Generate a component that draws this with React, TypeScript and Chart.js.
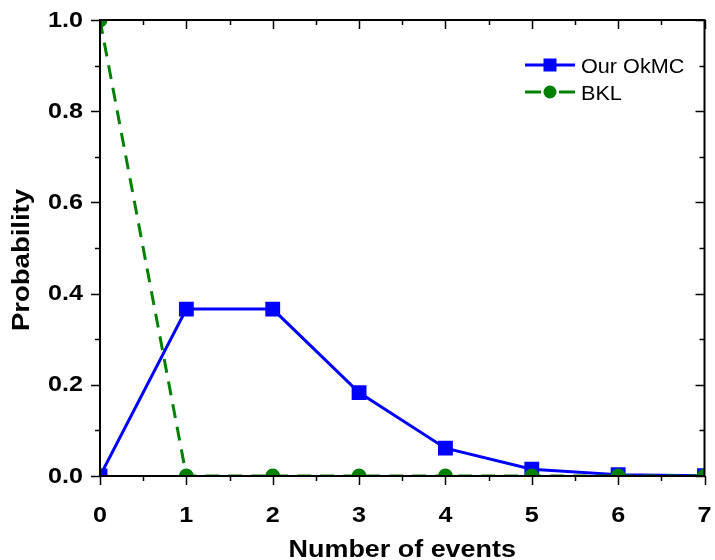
import React, { useEffect, useRef } from "react";
import { Chart, registerables } from "chart.js";

Chart.register(...registerables);

const eventCounts = [0, 1, 2, 3, 4, 5, 6, 7];
const okmcProb = [0, 0.366, 0.366, 0.183, 0.061, 0.015, 0.003, 0.0005];
const bklProb = [1, 0, 0, 0, 0, 0, 0, 0];
const seriesNames = ["Our OkMC", "BKL"];
const xTitle = "Number of events";
const yTitle = "Probability";

const FONT = "'Liberation Sans', Arial, Helvetica, sans-serif";
const BLUE = "#0000ff";
const GREEN = "#008000";
const SX = 1.17;

function stretchText(ctx: any, text: string, x: number, y: number, font: string, align: string, sx: number, rot = 0) {
  ctx.save();
  ctx.font = font;
  ctx.textAlign = align;
  ctx.textBaseline = "alphabetic";
  ctx.fillStyle = "#000";
  ctx.translate(x, y);
  if (rot) ctx.rotate(rot);
  ctx.scale(sx, 1);
  ctx.fillText(text, 0, 0);
  ctx.restore();
}

const framePlugin = {
  id: "frame",
  afterDatasetsDraw(chart: any) {
    const { ctx, chartArea } = chart;
    const { left, right, top, bottom } = chartArea;
    const xs = chart.scales.x;
    const ys = chart.scales.y;
    ctx.save();
    ctx.strokeStyle = "#000";
    ctx.lineWidth = 2;
    ctx.beginPath();
    ctx.rect(left, top, right - left, bottom - top);
    ctx.stroke();
    ctx.lineWidth = 1.5;
    ctx.beginPath();
    for (let i = 0; i <= 10; i++) {
      const v = i / 10;
      const y = Math.round(ys.getPixelForValue(v)) + 0.5;
      const major = i % 2 === 0;
      const len = major ? 9 : 5;
      ctx.moveTo(left, y);
      ctx.lineTo(left - len, y);
      ctx.moveTo(right, y);
      ctx.lineTo(right - len, y);
    }
    for (let i = 0; i <= 14; i++) {
      const v = i / 2;
      const x = Math.round(xs.getPixelForValue(v)) + 0.5;
      const major = i % 2 === 0;
      const len = major ? 9 : 5;
      ctx.moveTo(x, bottom);
      ctx.lineTo(x, bottom + len);
      ctx.moveTo(x, top);
      ctx.lineTo(x, top + len);
    }
    ctx.stroke();
    ctx.restore();

    // tick labels from the scales
    const tickFont = `bold 21.5px ${FONT}`;
    for (const t of ys.ticks) {
      const y = ys.getPixelForValue(t.value);
      stretchText(ctx, Number(t.value).toFixed(1), 83, y + 6.5, tickFont, "right", SX);
    }
    for (const t of xs.ticks) {
      const x = xs.getPixelForValue(t.value);
      stretchText(ctx, String(t.value), x, 522, tickFont, "center", SX);
    }
    // axis titles
    stretchText(ctx, xTitle, (left + right) / 2, 557, `bold 23px ${FONT}`, "center", SX);
    stretchText(ctx, yTitle, 29, 260, `bold 23.5px ${FONT}`, "center", SX, -Math.PI / 2);

    // legend
    ctx.save();
    const items = [
      { name: seriesNames[0], color: BLUE, dash: [] as number[], style: "rect", y: 65 },
      { name: seriesNames[1], color: GREEN, dash: [16, 18], style: "circle", y: 92 },
    ];
    for (const it of items) {
      ctx.strokeStyle = it.color;
      ctx.fillStyle = it.color;
      ctx.lineWidth = 3;
      ctx.setLineDash(it.dash);
      ctx.beginPath();
      ctx.moveTo(525, it.y);
      ctx.lineTo(575, it.y);
      ctx.stroke();
      ctx.setLineDash([]);
      ctx.beginPath();
      if (it.style === "rect") {
        ctx.rect(550 - 6.5, it.y - 6.5, 13, 13);
      } else {
        ctx.arc(550, it.y, 6.5, 0, Math.PI * 2);
      }
      ctx.fill();
    }
    ctx.restore();
    stretchText(ctx, items[0].name, 581, items[0].y + 8, `21px ${FONT}`, "left", 1.03);
    stretchText(ctx, items[1].name, 581, items[1].y + 8, `21px ${FONT}`, "left", 1.03);
  },
};

export default function App() {
  const ref = useRef<HTMLCanvasElement>(null);
  useEffect(() => {
    document.body.style.margin = "0";
    const canvas = ref.current!;
    const chart = new Chart(canvas, {
      type: "line",
      data: {
        datasets: [
          {
            label: seriesNames[1],
            data: eventCounts.map((x, i) => ({ x, y: bklProb[i] })),
            borderColor: GREEN,
            backgroundColor: GREEN,
            borderWidth: 3,
            borderDash: [14, 9],
            pointStyle: "circle",
            pointRadius: 7.5,
            pointBorderWidth: 0,
            clip: 0,
            order: 0,
          },
          {
            label: seriesNames[0],
            data: eventCounts.map((x, i) => ({ x, y: okmcProb[i] })),
            borderColor: BLUE,
            backgroundColor: BLUE,
            borderWidth: 3,
            pointStyle: "rect",
            pointRadius: 10.5,
            pointBorderWidth: 0,
            clip: 0,
            order: 1,
          },
        ],
      },
      options: {
        responsive: false,
        animation: false,
        events: [],
        layout: { padding: { top: 20, right: 3, left: 0, bottom: 0 } },
        plugins: { legend: { display: false }, tooltip: { enabled: false } },
        scales: {
          x: {
            type: "linear",
            min: 0,
            max: 7,
            grid: { display: false, drawTicks: false },
            border: { display: false },
            ticks: { stepSize: 1, display: false },
            afterFit(scale: any) {
              scale.height = 84;
              scale.paddingLeft = 0;
              scale.paddingRight = 0;
            },
          },
          y: {
            type: "linear",
            min: 0,
            max: 1,
            grid: { display: false, drawTicks: false },
            border: { display: false },
            ticks: { stepSize: 0.2, display: false },
            afterFit(scale: any) {
              scale.width = 100;
              scale.paddingTop = 0;
              scale.paddingBottom = 0;
            },
          },
        },
      },
      plugins: [framePlugin],
    } as any);
    return () => chart.destroy();
  }, []);
  return (
    <div style={{ width: 715, height: 560, background: "#fff" }}>
      <canvas ref={ref} width={715} height={560} style={{ display: "block" }} />
    </div>
  );
}
